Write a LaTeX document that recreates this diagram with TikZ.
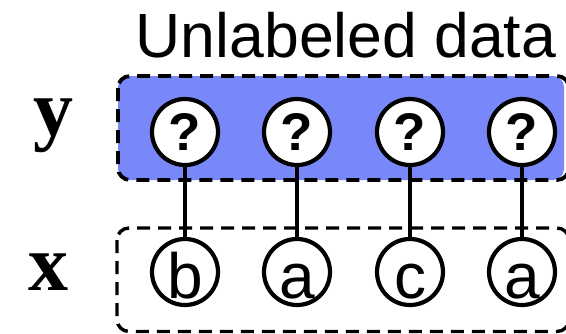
\documentclass[tikz,border=0pt]{standalone}
\usepackage{fontspec}
\setmainfont{Liberation Sans}
\newfontfamily\serifbold{Liberation Serif}
\definecolor{boxblue}{RGB}{120,136,248}
\begin{document}
\begin{tikzpicture}[x=1pt,y=-1pt,
  grp/.style={draw=black, line width=3.8pt, dash pattern=on 13pt off 8pt, rounded corners=12pt},
  var/.style={circle, draw=black, fill=white, line width=4.2pt, minimum size=66pt, inner sep=0pt},
  qmark/.style={var, font=\fontsize{53}{58}\selectfont\bfseries},
  obs/.style={var, font=\fontsize{64}{70}\selectfont, text height=52pt, text depth=0pt},
  link/.style={line width=4pt},
  axis/.style={font=\fontsize{80}{90}\selectfont\serifbold\bfseries, anchor=base, inner sep=0pt},
  title/.style={font=\fontsize{62.5}{70}\selectfont, anchor=base, inner sep=0pt}]
\useasboundingbox (0,0) rectangle (566,333);
\begin{scope}
\clip (0,0) rectangle (566,333);
\fill[boxblue, rounded corners=11pt] (118,76) rectangle (564,180);
\draw[grp] (118,76) rectangle (569,180);
\draw[grp, line width=3.4pt] (117,228) rectangle (569,331.5);
\node[title] (t) at (346,57) {Unlabeled data};
\node[axis] (ly) at (53,135) {y};
\node[axis] (lx) at (48,290) {x};
\foreach \i/\cx/\l in {1/185/b,2/297/a,3/410/c,4/522/a}{
  \coordinate (cy\i) at (\cx,132);
  \coordinate (cx\i) at (\cx,272);
  \draw[link] (cy\i) -- (cx\i);
  \node[qmark] (q\i) at (cy\i) {?};
  \node[obs] (o\i) at (cx\i) {\l};
}
\end{scope}
\end{tikzpicture}
\end{document}
